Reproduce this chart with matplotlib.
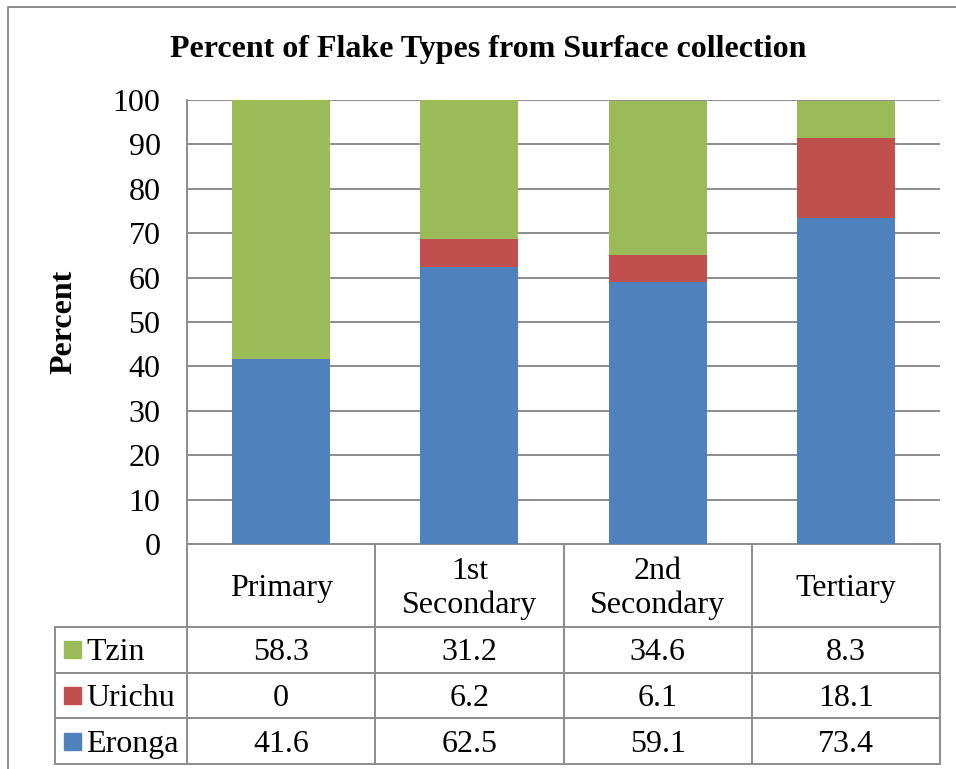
import matplotlib.pyplot as plt
import matplotlib.transforms as mtransforms
from matplotlib.lines import Line2D
from matplotlib.patches import Rectangle

categories = ['Primary', '1st\nSecondary', '2nd\nSecondary', 'Tertiary']
series_names = ['Tzin', 'Urichu', 'Eronga']
eronga = [41.6, 62.5, 59.1, 73.4]
urichu = [0, 6.2, 6.1, 18.1]
tzin = [58.3, 31.2, 34.6, 8.3]

colors = {'Eronga': '#4F81BD', 'Urichu': '#C0504D', 'Tzin': '#9BBB59'}
values = {'Eronga': eronga, 'Urichu': urichu, 'Tzin': tzin}
grid_col = '#8C8C8C'
fs = 23

plt.rcParams['font.family'] = ['Liberation Serif', 'DejaVu Serif']

W, H = 956, 769
fig = plt.figure(figsize=(W / 100, H / 100), dpi=100)
ax = fig.add_axes([187 / W, 1 - 544 / H, (940 - 187) / W, 444 / H])

x = range(len(categories))
bottom = [0] * len(categories)
for name in ['Eronga', 'Urichu', 'Tzin']:
    ax.bar(x, values[name], 0.52, bottom=bottom, color=colors[name], zorder=3)
    bottom = [b + v for b, v in zip(bottom, values[name])]

ax.set_xlim(-0.5, len(categories) - 0.5)
ax.set_ylim(0, 100)
ax.set_yticks(range(0, 101, 10))
ax.yaxis.grid(True, color=grid_col, linewidth=1.4, zorder=0)
ax.set_xticks([])
ax.tick_params(axis='y', length=0, pad=19, labelsize=fs)
for s in ['top', 'right', 'bottom']:
    ax.spines[s].set_visible(False)
ax.spines['left'].set_color(grid_col)
ax.spines['left'].set_linewidth(1.4)

ax.set_ylabel('Percent', fontsize=fs, fontweight='bold')
ax.yaxis.set_label_coords(78 / W, 1 - 322 / H, transform=fig.transFigure)
fig.text(0.511, 1 - 49 / H, 'Percent of Flake Types from Surface collection',
         ha='center', va='center', fontsize=fs, fontweight='bold')

# data table under the plot
trans = ax.get_xaxis_transform()
ftrans = mtransforms.blended_transform_factory(fig.transFigure, ax.transAxes)
header_h = 0.187
row_h = 0.1027
nudge = 3 / 444  # text sits a little low in the cells
y_rows = [0, -header_h] + [-header_h - row_h * (i + 1) for i in range(3)]
edges = [i - 0.5 for i in range(len(categories) + 1)]
line_kw = dict(color=grid_col, linewidth=1.4, clip_on=False)

ax.add_line(Line2D([edges[0], edges[-1]], [0, 0], transform=trans, **line_kw))
for y in y_rows[1:]:
    ax.add_line(Line2D([55 / W, 940 / W], [y, y], transform=ftrans, **line_kw))
for e in edges:
    ax.add_line(Line2D([e, e], [0, y_rows[-1]], transform=trans, **line_kw))
ax.add_line(Line2D([55 / W, 55 / W], [y_rows[1], y_rows[-1]], transform=ftrans, **line_kw))

for i, cat in enumerate(categories):
    ax.text(i, -header_h / 2 - nudge, cat, transform=trans, ha='center', va='center',
            fontsize=fs, linespacing=1.2)

for r, name in enumerate(series_names):
    yc = (y_rows[r + 1] + y_rows[r + 2]) / 2
    for i, v in enumerate(values[name]):
        ax.text(i, yc - nudge, f'{v:g}', transform=trans, ha='center', va='center',
                fontsize=fs)
    sq = 17 / 444
    ax.add_patch(Rectangle((64 / W, yc - sq / 2), 17 / W, sq, transform=ftrans,
                           color=colors[name], clip_on=False))
    ax.text(86 / W, yc - nudge, name, transform=ftrans, ha='left', va='center',
            fontsize=fs)

# outer chart border
fig.add_artist(Line2D([8 / W, 8 / W, 1], [0, 1 - 7 / H, 1 - 7 / H],
                      transform=fig.transFigure, color=grid_col, linewidth=1.4))

fig.savefig('out.png', dpi=100)
